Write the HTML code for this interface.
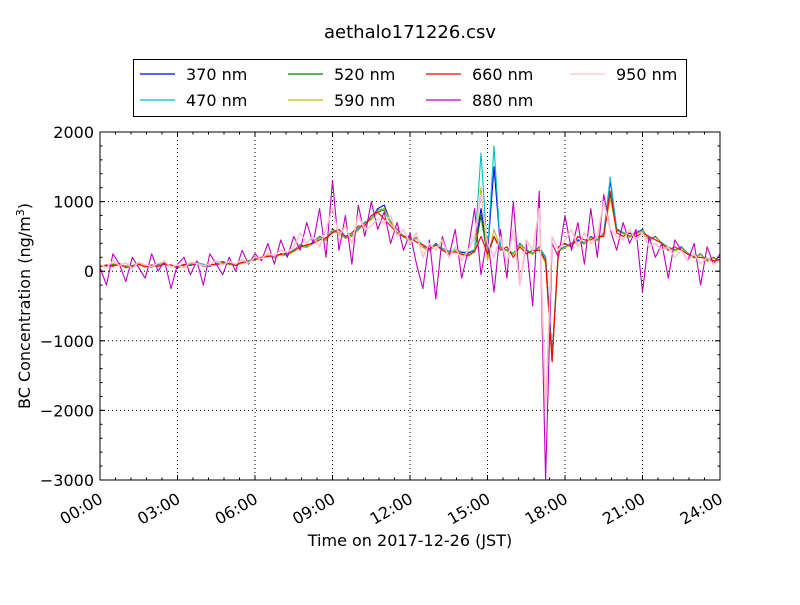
<!DOCTYPE html>
<html><head><meta charset="utf-8"><style>
body{margin:0;background:#fff}
svg{font-family:"DejaVu Sans","Liberation Sans",sans-serif}
</style></head><body>
<svg id="chart" width="800" height="600" viewBox="0 0 800 600">
<rect width="800" height="600" fill="#fff"/>
<text x="410" y="38" text-anchor="middle" font-size="18">aethalo171226.csv</text>
<g id="grid"></g>
<g id="series"></g>
<rect x="100" y="132" width="620" height="348" fill="none" stroke="#000" stroke-width="1"/>
<g id="ticks"></g>
<text x="410" y="546" text-anchor="middle" font-size="16">Time on 2017-12-26 (JST)</text>
<text transform="translate(30,306) rotate(-90)" text-anchor="middle" font-size="16">BC Concentration (ng/m<tspan baseline-shift="super" font-size="11">3</tspan>)</text>
<g id="legend">
<rect x="133.5" y="59.5" width="553" height="57" fill="#fff" stroke="#000"/>
</g>
</svg>
<script>
const times=[];for(let i=0;i<=96;i++)times.push(i/4);
const yTicks=[2000,1000,0,-1000,-2000,-3000];
const yTickLabels=["2000","1000","0","\u22121000","\u22122000","\u22123000"];
const xTicks=[0,3,6,9,12,15,18,21,24];
const xTickLabels=["00:00","03:00","06:00","09:00","12:00","15:00","18:00","21:00","24:00"];
const seriesNames=["370 nm","470 nm","520 nm","590 nm","660 nm","880 nm","950 nm"];
const seriesColors=["#0000ff","#00bfbf","#008000","#bfbf00","#ff0000","#bf00bf","#ffc0cb"];
const s370=[80,60,100,90,70,50,110,80,60,90,120,70,50,80,100,130,90,70,110,140,100,80,120,150,180,
190,220,200,250,230,300,380,350,420,500,450,600,
550,480,520,600,700,750,900,950,700,600,500,450,
480,350,300,400,320,280,300,270,260,300,900,250,1500,
350,300,250,400,300,250,350,200,-1200,300,
350,400,450,400,500,450,550,1300,600,
550,500,550,600,450,500,400,350,300,350,250,200,250,150,200,150,120];
const s470=[90,70,90,100,60,60,100,90,70,80,110,80,60,90,90,120,100,80,100,130,110,90,110,150,170,
200,210,210,240,240,310,370,360,410,480,460,580,
560,490,510,620,690,760,880,900,720,590,510,460,
470,360,310,390,330,290,300,280,270,310,1700,260,1800,
340,310,260,390,310,260,340,210,-1250,310,
360,390,460,410,490,460,540,1350,610,
560,510,540,590,460,490,410,340,310,340,260,210,240,160,190,160,130];
const s520=[70,80,90,80,80,60,100,70,70,80,110,60,60,70,110,120,80,80,100,130,90,90,110,140,170,
180,230,190,240,220,290,360,340,400,490,440,580,
540,470,500,590,680,740,850,880,690,590,490,440,
470,340,290,380,310,270,290,250,240,280,800,200,500,
330,290,240,380,290,240,330,150,-1300,280,
340,380,430,390,480,440,530,1100,580,
540,490,530,580,440,490,390,340,290,330,240,190,240,140,190,140,110];
const s590=[90,50,110,80,80,40,120,70,70,80,130,60,60,70,110,120,80,80,100,130,90,90,110,140,170,
180,230,190,240,220,290,370,340,410,490,440,590,
540,470,500,590,680,740,860,900,690,590,490,440,
470,340,290,380,310,270,290,250,240,280,1200,150,600,
330,290,240,380,290,240,330,100,-1300,280,
340,380,430,390,480,440,530,1050,580,
540,490,530,580,440,490,390,340,290,330,240,190,240,140,190,140,110];
const s660=[60,90,70,110,50,80,100,60,90,70,100,90,60,100,80,110,70,100,90,120,110,90,130,140,170,
200,210,230,240,260,290,350,380,400,450,480,550,
600,500,550,650,650,800,850,750,650,550,500,480,
420,380,320,380,300,250,280,240,220,280,500,250,500,
300,350,200,350,250,300,300,150,-1300,350,
400,350,500,450,450,500,500,1150,550,
500,550,500,550,500,450,400,300,350,300,250,200,200,180,150,170,130];
const s880=[50,-200,250,100,-150,200,50,-100,250,0,150,-250,100,200,-50,150,-200,250,100,-50,200,0,300,100,250,
150,400,100,450,200,500,300,700,400,900,200,1300,
300,800,100,950,500,1000,600,850,400,700,300,550,
100,-250,450,-400,500,200,600,-100,300,900,-50,500,
-300,600,-100,1000,-200,400,-500,1150,-3000,400,
200,800,300,700,100,900,200,1100,600,
300,700,400,600,-300,500,200,400,-100,450,300,150,400,-200,350,100,250];
const s950=[100,50,150,80,120,40,130,90,70,110,140,60,90,50,130,110,80,100,150,90,140,100,170,120,200,
180,260,220,300,270,350,550,400,500,350,600,900,
500,650,400,800,600,650,750,700,800,500,600,400,
550,200,400,300,450,200,350,150,300,500,1100,400,
200,500,100,600,-200,450,300,900,-2000,500,
300,450,600,350,550,400,500,1000,600,
500,450,600,450,550,350,400,300,350,200,300,150,250,100,200,100,150];
const allSeries=[s370,s470,s520,s590,s660,s880,s950];

const NS="http://www.w3.org/2000/svg";
const X0=100,X1=720,Y0=132,Y1=480;
function xs(h){return X0+(h/24)*(X1-X0);}
function ys(v){return Y0+(2000-v)/5000*(Y1-Y0);}
function mk(tag,attrs,parent){const e=document.createElementNS(NS,tag);for(const k in attrs)e.setAttribute(k,attrs[k]);parent.appendChild(e);return e;}
const grid=document.getElementById('grid'),ticks=document.getElementById('ticks'),sg=document.getElementById('series'),lg=document.getElementById('legend');

xTicks.forEach((t,i)=>{
  const x=xs(t);
  if(i>0&&i<xTicks.length-1){const g=mk('line',{x1:x,x2:x,y1:Y0,y2:Y1,stroke:'#000','stroke-dasharray':'1,3'},grid);
  
  }
  [[Y1,Y1-5],[Y0,Y0+5]].forEach(p=>{const l=mk('line',{x1:x,x2:x,y1:p[0],y2:p[1],stroke:'#000'},ticks);
  
  });
  const tx=mk('text',{x:x+4,y:Y1+22,'text-anchor':'end','font-size':'16',transform:`rotate(-30 ${x+4} ${Y1+22})`},ticks);
  tx.textContent=xTickLabels[i];
  
  
});
for(let m=0;m<=24;m+=0.6){const x=xs(m);
  [[Y1,Y1-2.5],[Y0,Y0+2.5]].forEach(p=>{const l=mk('line',{x1:x,x2:x,y1:p[0],y2:p[1],stroke:'#000'},ticks);
  
  });}
yTicks.forEach((v,i)=>{
  const y=ys(v);
  if(i>0&&i<yTicks.length-1){const g=mk('line',{x1:X0,x2:X1,y1:y,y2:y,stroke:'#000','stroke-dasharray':'1,3'},grid);
  
  }
  [[X0,X0+5],[X1,X1-5]].forEach(p=>{const l=mk('line',{x1:p[0],x2:p[1],y1:y,y2:y,stroke:'#000'},ticks);
  
  });
  const tx=mk('text',{x:X0-6,y:y+6,'text-anchor':'end','font-size':'16'},ticks);
  tx.textContent=yTickLabels[i];
  
  
});
for(let v=-3000;v<=2000;v+=200){const y=ys(v);
  [[X0,X0+2.5],[X1,X1-2.5]].forEach(p=>{const l=mk('line',{x1:p[0],x2:p[1],y1:y,y2:y,stroke:'#000'},ticks);
  
  });}

allSeries.forEach((s,k)=>{
  const d=s.map((v,i)=>(i?'L':'M')+xs(times[i]).toFixed(1)+','+ys(v).toFixed(1)).join('');
  const p=mk('path',{d:d,fill:'none',stroke:seriesColors[k],'stroke-width':k===6?'1.5':'1.1','stroke-linejoin':'round'},sg);
  
  
});
const legPos=[[140,74],[140,100],[288,74],[288,100],[426,74],[426,100],[570,74]];
seriesNames.forEach((n,k)=>{
  const [x,y]=legPos[k];
  const l=mk('line',{x1:x,x2:x+35,y1:y,y2:y,stroke:seriesColors[k],'stroke-width':'1.2'},lg);
  
  
  const t=mk('text',{x:x+46,y:y+6,'font-size':'16'},lg);
  t.textContent=n;
  
  
});
</script>
</body></html>
